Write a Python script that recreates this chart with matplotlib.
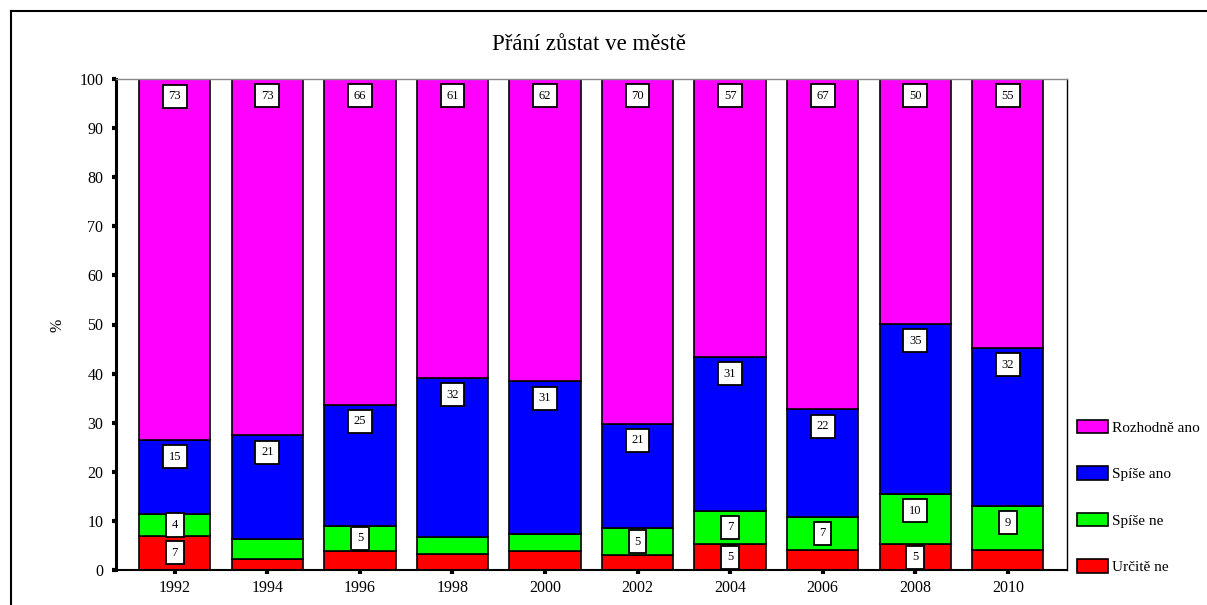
import matplotlib
matplotlib.use("Agg")
import matplotlib.pyplot as plt
from matplotlib.patches import Patch
from matplotlib.lines import Line2D
import numpy as np

plt.rcParams['font.family'] = ['Liberation Serif', 'DejaVu Serif']

years = ["1992", "1994", "1996", "1998", "2000", "2002", "2004", "2006", "2008", "2010"]
urcite_ne = [6.9, 2.2, 3.9, 3.2, 3.9, 3.1, 5.2, 4.1, 5.2, 4.1]
spise_ne = [4.5, 4.1, 5.1, 3.5, 3.5, 5.4, 6.9, 6.7, 10.3, 8.9]
spise_ano = [15.1, 21.1, 24.7, 32.4, 31.0, 21.3, 31.3, 21.9, 34.6, 32.2]
rozhodne_ano = [73.4, 72.6, 66.3, 60.9, 61.6, 70.2, 56.6, 67.3, 49.9, 54.8]

series = [
    ("Určitě ne", urcite_ne, "#FF0000"),
    ("Spíše ne", spise_ne, "#00FF00"),
    ("Spíše ano", spise_ano, "#0000FF"),
    ("Rozhodně ano", rozhodne_ano, "#FF00FF"),
]

fig = plt.figure(figsize=(12.07, 6.05), dpi=100)
ax = fig.add_axes([116 / 1207, 35 / 605, (1067 - 116) / 1207, (570 - 79) / 605])

x = np.arange(len(years))
bottom = np.zeros(len(years))
for name, vals, col in series:
    vals = np.array(vals)
    ax.bar(x, vals, bottom=bottom, width=0.77, color=col, edgecolor="black",
           linewidth=1.2, label=name, zorder=2)
    for xi, b, v in zip(x, bottom, vals):
        if v >= 4.5:
            top = b + v
            y = max(top - 3.4, b + v / 2)
            ax.text(xi, y, str(int(round(v))), ha="center", va="center", fontsize=9,
                    zorder=4,
                    bbox=dict(boxstyle="square,pad=0.45", facecolor="white",
                              edgecolor="black", linewidth=1.3))
    bottom = bottom + vals

ax.set_xlim(-0.635, 9.64)
ax.set_ylim(0, 100)
ax.set_xticks(x)
ax.set_xticklabels(years)
ax.set_yticks(np.arange(0, 101, 10))
ax.tick_params(axis="both", direction="out", length=3, width=3, labelsize=11.5,
               color="black")
ax.tick_params(axis="y", pad=6)
ax.tick_params(axis="x", pad=4)

ax.spines["left"].set_linewidth(2.2)
ax.spines["bottom"].set_linewidth(1.5)
ax.spines["top"].set_color("#888888")
ax.spines["top"].set_linewidth(1)
ax.spines["right"].set_linewidth(1)

fig.text(57 / 1207, 1 - 325 / 605, "%", rotation=90, ha="center", va="center",
         fontsize=11.5)
fig.text(589 / 1207, 1 - 45 / 605, "Přání zůstat ve městě", ha="center",
         va="center", fontsize=16.5)

handles = [Patch(facecolor=c, edgecolor="black", linewidth=1.2) for _, _, c in series[::-1]]
labels = [n for n, _, _ in series[::-1]]
fig.legend(handles, labels, loc="lower left",
           bbox_to_anchor=(1077 / 1207, 31 / 605), frameon=False, fontsize=11,
           handlelength=2.0, handleheight=1.0, handletextpad=0.3,
           labelspacing=2.05, borderpad=0, borderaxespad=0)

# outer frame
fig.add_artist(Line2D([11 / 1207, 11 / 1207], [0, 1 - 11 / 605], color="black", lw=1.5))
fig.add_artist(Line2D([11 / 1207, 1], [1 - 11 / 605, 1 - 11 / 605], color="black", lw=1.5))

fig.savefig("out.png", dpi=100)
